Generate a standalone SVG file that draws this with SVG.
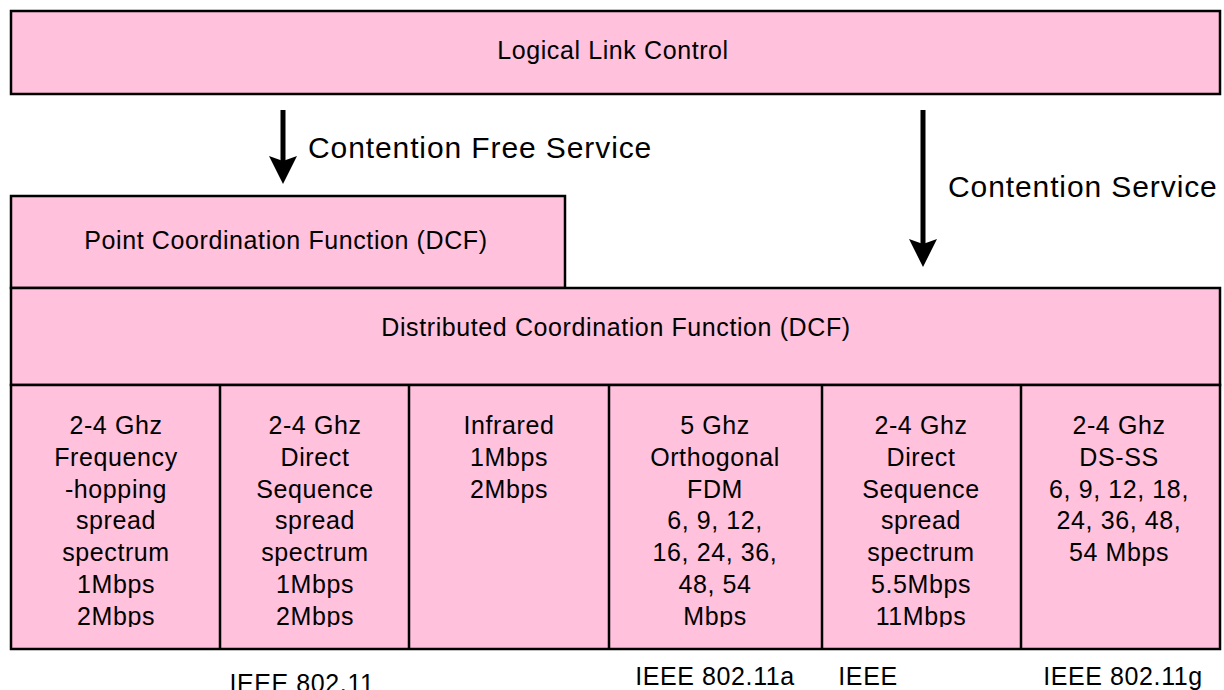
<svg xmlns="http://www.w3.org/2000/svg" width="1224" height="690" viewBox="0 0 1224 690">
  <style>
    .box { fill: #FFC1DC; stroke: #000; stroke-width: 2.5; }
    .div { stroke: #000; stroke-width: 2.5; fill: none; }
    .t { font-family: "Liberation Sans", Arial, sans-serif; font-size: 25px; letter-spacing: 0.6px; fill: #000; text-anchor: middle; }
    .big { font-family: "Liberation Sans", Arial, sans-serif; font-size: 30px; letter-spacing: 0.9px; fill: #000; }
    .conn { stroke: #000; stroke-width: 5; fill: none; }
  </style>
  <defs>
    <marker id="head" markerUnits="userSpaceOnUse" markerWidth="28" markerHeight="28" viewBox="0 0 28 28" refX="8" refY="14" orient="auto">
      <path d="M0,0 L28,14 L0,28 L5,14 Z" fill="#000"/>
    </marker>
    <clipPath id="cellclip">
      <rect x="0" y="385" width="1224" height="242"/>
    </clipPath>
  </defs>
  <rect width="1224" height="690" fill="#fff"/>

  <g id="llc">
    <rect class="box" x="11" y="11" width="1209" height="83"/>
    <text class="t" x="613" y="59">Logical Link Control</text>
  </g>

  <g id="pcf">
    <rect class="box" x="11" y="196" width="554" height="92"/>
    <text class="t" x="286" y="249">Point Coordination Function (DCF)</text>
  </g>

  <g id="dcf">
    <rect class="box" x="11" y="288" width="1209" height="97"/>
    <text class="t" x="616" y="336">Distributed Coordination Function (DCF)</text>
  </g>

  <g id="phy">
    <rect class="box" x="11" y="385" width="1209" height="264"/>
    <g id="dividers">
      <line class="div" x1="220" y1="385" x2="220" y2="649"/>
      <line class="div" x1="409" y1="385" x2="409" y2="649"/>
      <line class="div" x1="609" y1="385" x2="609" y2="649"/>
      <line class="div" x1="822" y1="385" x2="822" y2="649"/>
      <line class="div" x1="1021" y1="385" x2="1021" y2="649"/>
    </g>
    <g clip-path="url(#cellclip)">
      <g id="cell-fhss">
        <text class="t" y="434"><tspan x="116">2-4 Ghz</tspan><tspan x="116" dy="31.8">Frequency</tspan><tspan x="116" dy="31.8">-hopping</tspan><tspan x="116" dy="31.8">spread</tspan><tspan x="116" dy="31.8">spectrum</tspan><tspan x="116" dy="31.8">1Mbps</tspan><tspan x="116" dy="31.8">2Mbps</tspan></text>
      </g>
      <g id="cell-dsss">
        <text class="t" y="434"><tspan x="315">2-4 Ghz</tspan><tspan x="315" dy="31.8">Direct</tspan><tspan x="315" dy="31.8">Sequence</tspan><tspan x="315" dy="31.8">spread</tspan><tspan x="315" dy="31.8">spectrum</tspan><tspan x="315" dy="31.8">1Mbps</tspan><tspan x="315" dy="31.8">2Mbps</tspan></text>
      </g>
      <g id="cell-ir">
        <text class="t" y="434"><tspan x="509">Infrared</tspan><tspan x="509" dy="31.8">1Mbps</tspan><tspan x="509" dy="31.8">2Mbps</tspan></text>
      </g>
      <g id="cell-ofdm">
        <text class="t" y="434"><tspan x="715">5 Ghz</tspan><tspan x="715" dy="31.8">Orthogonal</tspan><tspan x="715" dy="31.8">FDM</tspan><tspan x="715" dy="31.8">6, 9, 12,</tspan><tspan x="715" dy="31.8">16, 24, 36,</tspan><tspan x="715" dy="31.8">48, 54</tspan><tspan x="715" dy="31.8">Mbps</tspan></text>
      </g>
      <g id="cell-dsss-b">
        <text class="t" y="434"><tspan x="921">2-4 Ghz</tspan><tspan x="921" dy="31.8">Direct</tspan><tspan x="921" dy="31.8">Sequence</tspan><tspan x="921" dy="31.8">spread</tspan><tspan x="921" dy="31.8">spectrum</tspan><tspan x="921" dy="31.8">5.5Mbps</tspan><tspan x="921" dy="31.8">11Mbps</tspan></text>
      </g>
      <g id="cell-g">
        <text class="t" y="434"><tspan x="1119">2-4 Ghz</tspan><tspan x="1119" dy="31.8">DS-SS</tspan><tspan x="1119" dy="31.8">6, 9, 12, 18,</tspan><tspan x="1119" dy="31.8">24, 36, 48,</tspan><tspan x="1119" dy="31.8">54 Mbps</tspan></text>
      </g>
    </g>
  </g>

  <g id="labels">
    <text class="t" x="302" y="692">IEEE 802.11</text>
    <text class="t" x="715" y="685">IEEE 802.11a</text>
    <text class="t" x="868" y="685">IEEE</text>
    <text class="t" x="1123" y="685">IEEE 802.11g</text>
  </g>

  <g id="connectors">
    <line class="conn" x1="283" y1="110" x2="283" y2="164" marker-end="url(#head)"/>
    <text class="big" x="308" y="158">Contention Free Service</text>
    <line class="conn" x1="923" y1="110" x2="923" y2="247" marker-end="url(#head)"/>
    <text class="big" x="948" y="197">Contention Service</text>
  </g>
</svg>
